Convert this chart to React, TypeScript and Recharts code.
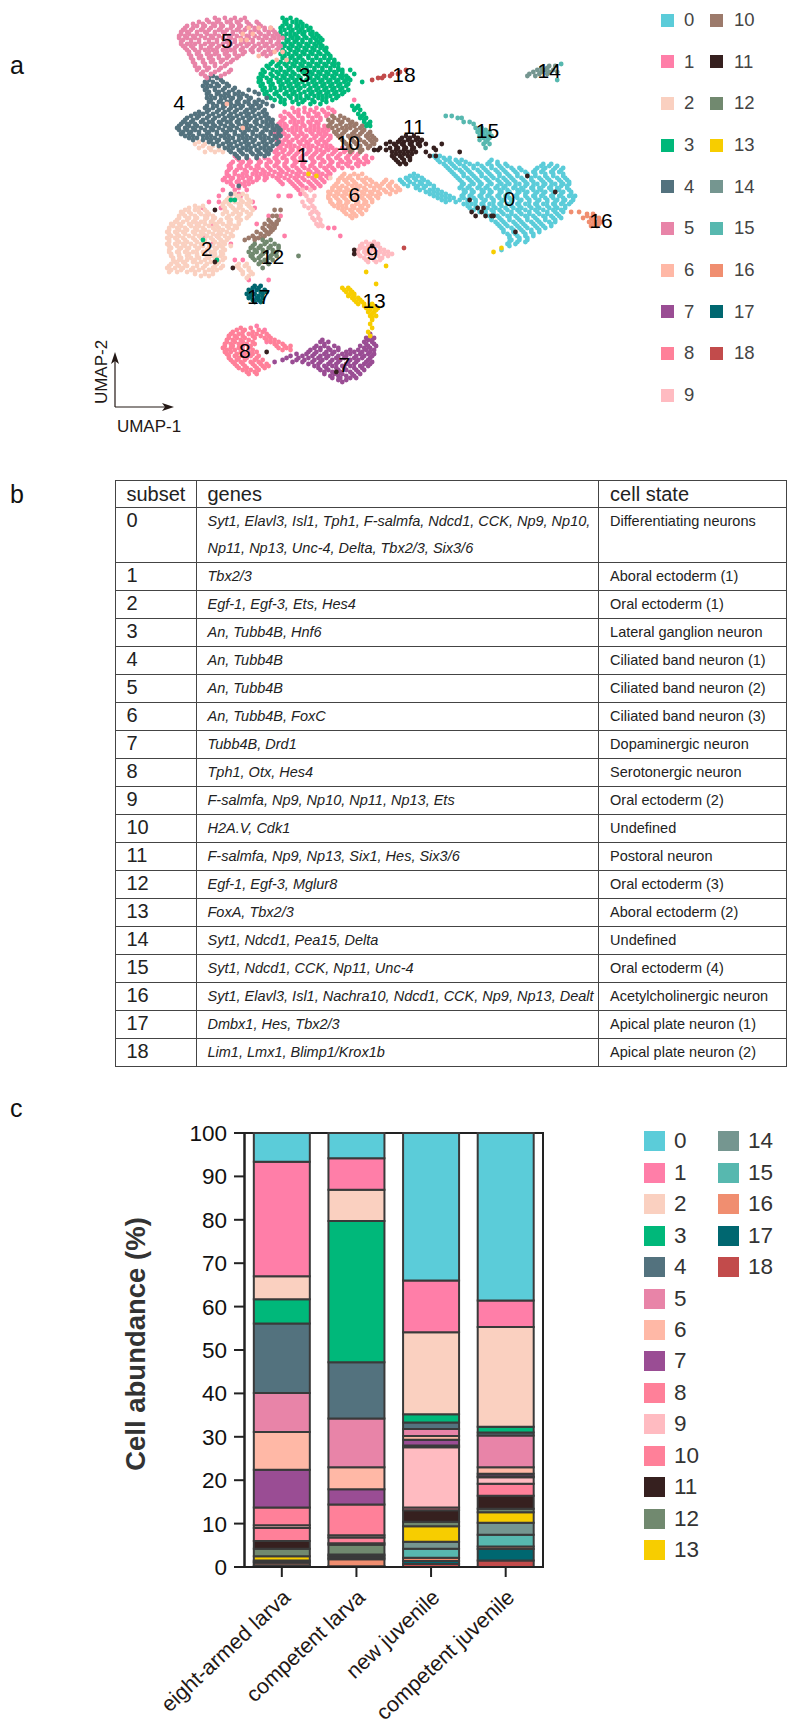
import { Bar, BarChart, ReferenceArea, Scatter, ScatterChart, XAxis, YAxis } from 'recharts';

const FONT = '"Liberation Sans", Arial, sans-serif';

const subsets = ['0','1','2','3','4','5','6','7','8','9','10','11','12','13','14','15','16','17','18'];
const umapColors = ['#5BCCD9','#FF7EA8','#FAD0C0','#00B87A','#53727E','#E884A8','#FFB8A6','#9A4D94','#FF8099','#FFBBC1','#9C7A6B','#36201F','#71896F','#F7CD00','#759690','#57B8AF','#F08E70','#006770','#C24B4B'];
const barColors = ['#5BCCD9','#FF7EA8','#FAD0C0','#00B87A','#53727E','#E884A8','#FFB8A6','#9A4D94','#FF8099','#FFBBC1','#FF8099','#36201F','#71896F','#F7CD00','#759690','#57B8AF','#F08E70','#006770','#C24B4B'];

const genes = [
  ['Syt1, Elavl3, Isl1, Tph1, F-salmfa, Ndcd1, CCK, Np9, Np10,', 'Np11, Np13, Unc-4, Delta, Tbx2/3, Six3/6'],
  ['Tbx2/3'], ['Egf-1, Egf-3, Ets, Hes4'], ['An, Tubb4B, Hnf6'], ['An, Tubb4B'], ['An, Tubb4B'], ['An, Tubb4B, FoxC'],
  ['Tubb4B, Drd1'], ['Tph1, Otx, Hes4'], ['F-salmfa, Np9, Np10, Np11, Np13, Ets'], ['H2A.V, Cdk1'],
  ['F-salmfa, Np9, Np13, Six1, Hes, Six3/6'], ['Egf-1, Egf-3, Mglur8'], ['FoxA, Tbx2/3'], ['Syt1, Ndcd1, Pea15, Delta'],
  ['Syt1, Ndcd1, CCK, Np11, Unc-4'], ['Syt1, Elavl3, Isl1, Nachra10, Ndcd1, CCK, Np9, Np13, Dealt'],
  ['Dmbx1, Hes, Tbx2/3'], ['Lim1, Lmx1, Blimp1/Krox1b'],
];
const cellStates = ['Differentiating neurons','Aboral ectoderm (1)','Oral ectoderm (1)','Lateral ganglion neuron','Ciliated band neuron (1)','Ciliated band neuron (2)','Ciliated band neuron (3)','Dopaminergic neuron','Serotonergic neuron','Oral ectoderm (2)','Undefined','Postoral neuron','Oral ectoderm (3)','Aboral ectoderm (2)','Undefined','Oral ectoderm (4)','Acetylcholinergic neuron','Apical plate neuron (1)','Apical plate neuron (2)'];

// abundance per stage, subset 0..18
const stages = ['eight-armed larva', 'competent larva', 'new juvenile', 'competent juvenile'];
const eightArmedLarva = [6.6,26.4,5.3,5.6,16.0,9.0,8.7,8.7,4.1,0.6,3.0,1.8,1.7,1.0,0.3,0.2,0.6,0.2,0.2];
const competentLarva = [5.8,7.3,7.2,32.5,13.0,11.2,5.1,3.5,7.1,0.5,1.3,0.4,2.2,0.3,0.45,0.35,1.6,0.1,0.1];
const newJuvenile = [34.0,11.9,18.9,1.9,1.5,1.6,0.9,1.3,0.4,13.9,0.6,2.7,1.0,3.6,1.6,2.05,0.75,0.7,0.7];
const competentJuvenile = [38.6,6.1,23.0,1.3,0.7,7.3,1.5,0.6,0.2,1.5,2.8,3.0,0.8,2.4,2.75,2.75,0.55,2.65,1.5];
const yTicks = [0,10,20,30,40,50,60,70,80,90,100];

const barData = stages.map((stage, i) => {
  const row: Record<string, number | string> = { stage };
  const cols = [eightArmedLarva, competentLarva, newJuvenile, competentJuvenile];
  subsets.forEach((s, j) => { row['s' + s] = cols[i][j]; });
  return row;
});

// UMAP points, one row per umap2 value: [umap2, umap1, umap1, ...]
const c0 = [
  [78,218,221],[80,220,224,229,232,247],[82,223,227,231,236,240,245,250,254,273,277],
  [84,225,229,234,238,243,247,252,257,261,270,274,279,283],[86,227,232,236,241,245,250,254,259,264,268,272,277,281],
  [88,206,210,229,233,238,242,247,251,256,260,265,269,274,278,283],[90,201,205,209,213,231,236,240,245,250,254,258,263,267,272,276,281,285],
  [92,203,208,212,216,233,238,242,247,252,256,261,265,270,274,279,283,286],[94,209,213,218,231,235,240,244,249,253,258,262,267,271,276,280,285],
  [96,214,218,222,234,238,243,247,252,256,261,265,270,274,279,283,287],[98,218,222,226,232,236,241,245,250,254,259,264,268,272,277,281,286,289],
  [100,222,226,231,235,239,244,248,253,257,262,266,271,275,280,284,288],[102,233,237,242,246,251,255,260,264,269,273,278,282,286],
  [104,236,240,245,249,254,258,262,267,271,276,280,284],[106,241,244,248,252,257,261,266,270,275,279,283],
  [108,246,250,255,259,264,268,273,277,281],[110,247,252,256,261,265,270,274,279],[112,250,254,259,263,268,272,277],
  [114,252,257,261,265,270,274],[116,253,258,263,267,271],[118,256,260,264,268],[120,257,261,265],[122,255,259],[125,252],
  [79,219,223,226],[81,221,226,230,234,246,250],[83,224,228,233,238,242,247,251,255,272,276,280],[85,226,231,235,240,244,249,253,258,262,269,273,278,282],
  [87,208,228,233,237,242,246,251,255,260,265,269,274,278,283],[89,204,208,212,230,235,239,244,248,253,257,262,267,271,275,280,284],
  [91,202,206,211,215,232,237,241,246,251,255,259,264,268,273,277,282,286],[93,205,210,214,218,232,236,241,245,250,254,259,264,268,273,277,282,285],
  [95,211,216,220,233,237,242,246,251,255,260,263,268,272,277,281,286],[97,216,220,224,233,237,242,246,251,255,260,264,269,273,278,282,287],
  [99,220,224,228,233,238,242,247,251,256,260,265,269,274,278,283,288],[101,224,229,235,239,243,248,252,257,261,266,270,275,279,283,287],
  [103,235,239,243,248,252,257,261,266,270,275,279,284],[105,238,243,247,251,255,260,264,269,273,278,282],[107,244,248,253,257,262,266,271,275,280],
  [109,247,251,256,260,265,269,274,278,282],[111,249,253,258,262,267,271,276,279],[113,251,255,260,264,269,273,277],[115,253,258,262,267,271],[117,255,259,264,268],[119,256,261,265],[121,256,260,264],[123,256],
];
const c1 = [
  [50,178],[55,150,156,162,167],[57,145,150,155,160,165],[59,143,147,152,157,161],[61,141,146,150,155,159],
  [63,141,144,149,153,158,163],[65,140,145,149,154,158,162,165],[67,139,143,148,152,157,161,164],[69,140,144,149,153,158,162,166],
  [71,141,145,150,154,159,163],[73,140,144,148,153,157,162,166],[75,139,143,147,152,156,161,165,169,174],[77,140,145,149,154,158,162,167,171,176,180],
  [79,119,124,129,133,138,142,147,151,156,160,165,169,174,178,183,187],[81,117,122,126,131,136,140,144,149,153,158,163,167,172,176,181,185],
  [83,115,120,124,129,134,138,143,147,152,156,161,165,170,175,180],[85,115,119,123,128,132,136,141,145,150,155,159,164,168],
  [87,114,118,122,127,131,135,140,144,149,153,158,162,166],[89,113,117,122,126,130,134,139,143,148,152,157,161,165],
  [91,114,119,123,127,141,146,150,155,159,163],[93,117,123,148,152,157,161],[95,112,124,118,150,156],[98,110,121,116,140,145,146],
  [101,105,110,127],[104,102,111,128],[108,104,135,141],[112,99,107,129],[118,109,103,143],[122,107,116],[130,118,122],[140,125,135],[114,168,165],[118,171],
  [163,129],[165,133],[171,134],[126,189],
  [54,147,153,159,165],[56,143,148,153,158,163,168],[58,141,146,150,155,159,164],[60,142,148,152,157,161],[62,140,143,148,152,156,160],
  [64,139,143,147,151,156,160,164],[66,138,142,147,151,156,160,163],[68,141,145,150,154,159,163,166],[70,139,143,147,152,156,161,165],
  [72,142,146,151,155,160,164],[74,141,146,150,155,159,164,167,172],[76,138,142,146,150,155,159,163,168,173,177],[78,118,139,143,148,152,157,161,165,170,175,179,184],
  [80,120,125,130,135,139,144,148,152,157,162,166,171,175,180,184],[82,116,121,125,130,134,139,143,148,152,157,161,166,170,174,179,183],
  [84,116,121,126,130,135,140,144,149,153,158,163,167,172,177],[86,114,118,124,129,133,138,142,147,151,156,160,165],
  [88,115,120,124,129,133,137,141,146,150,155,160,164],[90,112,116,120,125,129,133,140,145,149,153,158,162],[92,116,121,125,142,147,151,156,160],[94,120,149,154,158],[97,151,120],
];
const c2 = [
  [72,98,103],[74,100,105,110],[76,103,108,112],[89,166],[97,118,122],[99,115,119,124],[101,113,118,122,126],[103,98,102,112,116,121,125],
  [105,93,98,103,113,118,122,127],[107,92,96,101,105,112,117,121,126],[109,90,95,99,104,108,114,119,124],[111,88,92,97,101,106,110,115,120],
  [113,87,91,96,100,105,109,114,118],[115,85,90,94,99,103,108,112,117],[117,85,89,93,98,102,107,111,116],[119,84,88,92,97,101,106,110,115],
  [121,85,90,94,99,103,108,112],[123,85,89,93,98,102,107,111,116],[125,85,90,94,99,104,108,113],[127,86,90,95,99,103,108,112],
  [129,87,91,96,100,105,109,113],[131,88,92,97,101,106,110],[133,85,90,94,99,103,108,112,119,123],[135,86,91,96,100,105,109,121,125],
  [137,98,103,107,122,127],[139,124],
  [71,100],[73,102,107],[75,106,110],[98,116,120,124],[100,114,117,121,125],[102,112,115,120,124],[104,95,100,113,117,120,126],[106,91,95,100,104,114,119,124],
  [108,90,93,98,103,107,115,120,125],[110,89,94,98,103,107,111,116,121],[112,86,90,95,99,103,108,112,116,120],[114,85,89,93,98,102,107,110,115,119],
  [116,84,88,92,97,101,105,110,114],[118,86,90,95,100,104,109,113,117],[120,85,89,93,98,103,107,111,114],[122,84,88,92,96,101,105,110,113],
  [124,86,91,95,100,105,109,112],[126,85,89,93,97,102,106,111],[128,86,90,94,99,104,107,111],[130,87,90,94,98,103,108,112],[132,86,89,93,99,104,109,120,124],
  [134,84,88,92,97,102,107,111,120,125],[136,85,89,94,98,103,107,122,126],[138,101,105,125],
];
const c3 = [
  [9,142,146],[11,143,147,151],[13,142,146,150,154],[15,143,147,151,155],[17,144,148,152,156,159],[19,143,147,150,154,158,161],[21,144,148,152,156,160],
  [23,143,147,151,155,159,162],[25,142,146,150,154,158,163],[27,141,145,149,153,157,161,165],[29,142,146,150,155,159,163,166],[31,137,141,145,149,153,157,161,165,168],
  [33,134,139,144,148,152,156,160,164,168],[35,132,137,141,145,150,154,158,162,166,170],[37,131,136,140,144,148,153,157,161,165,169,172,178],
  [39,130,134,139,143,147,151,156,160,164,168,172,175],[41,130,135,140,144,148,152,157,161,165,169,173,182],[43,131,136,141,145,149,153,158,162,166,170,174],
  [45,132,136,141,146,150,155,159,163,167,171,175],[47,133,138,143,147,151,156,160,164,168,172],[49,136,141,146,151,155,160,164,169],[51,141,147,152,158,164],
  [53,177,180],[55,178,181],[57,180,183],[59,181,184],[61,183,186],[63,184,186],[35,172,176],[100,118,116],[120,102],[130,109],
  [10,144,149],[12,144,149,152],[14,141,145,149,152,156],[16,141,146,150,153,157],[18,142,146,149,153,157,160],[20,145,149,152,156,159,162],[22,142,146,150,154,158,161],
  [24,145,149,153,157,161,164],[26,143,148,152,156,160,164],[28,143,147,151,155,159,163,166],[30,144,148,152,157,161,165,168],[32,136,140,143,147,151,155,159,163,167,170],
  [34,135,141,146,150,154,158,162,166,170],[36,133,139,143,147,152,156,160,164,168,172],[38,132,137,142,146,150,155,159,163,167,171,174],
  [40,131,136,141,145,149,154,158,162,166,170,174,176],[42,132,137,142,146,150,155,159,163,167,171,175],[44,133,138,143,147,151,156,160,164,168,172],
  [46,134,139,144,148,153,157,161,165,169,173],[48,135,140,145,149,154,158,162,166,170],[50,138,143,149,153,157,162,167],[52,143,150,156,161],[54,179],[58,182],[60,183],[62,185],
];
const c4 = [
  [39,105,109],[41,103,107,112],[43,102,106,110,115],[45,103,108,112,117,125],[47,104,109,113,118,122,130],[49,104,108,113,117,121,126,134],
  [51,105,110,114,119,123,128,132],[53,104,109,113,118,122,127,131,137],[55,105,110,115,119,124,128,133],[57,98,102,107,112,116,121,125,130,134],
  [59,94,99,104,108,113,117,122,126,131,135],[61,92,96,101,105,110,114,119,123,128,132,136],[63,90,95,99,104,108,113,117,122,126,131,135,139],
  [65,90,94,98,103,107,112,116,121,125,129,134,138,141],[67,91,95,100,104,109,113,118,122,127,131,136,140],[69,95,99,104,108,113,117,122,126,131,135,139],
  [71,105,109,114,118,123,127,132,136,140],[73,110,115,119,124,128,133,137],[75,115,120,124,129,133,136],[77,118,122,127,131,135],[79,120,124,129],[93,120],[97,116],
  [38,107],[40,105,111],[42,104,109,114],[44,104,108,113,118],[46,105,110,115,120,128],[48,106,111,115,120,124],[50,106,111,116,120,125,130],
  [52,107,112,116,120,125,129,134],[54,103,107,112,116,121,126,130],[56,100,104,109,113,118,123,127,132],[58,96,100,105,110,115,119,124,128,133],
  [60,93,97,102,107,112,116,120,125,129,134,137],[62,91,94,98,103,107,111,116,120,124,129,134,137],[64,89,93,97,101,106,110,115,119,124,128,133,137,140],
  [66,92,96,100,105,109,114,118,123,127,132,136,140],[68,93,97,102,106,111,115,120,124,129,133,138,141],[70,97,102,106,110,115,120,124,128,133,137],
  [72,107,112,116,121,125,130,134,139],[74,113,117,122,126,131,135],[76,116,121,126,130,134],[78,119,124,129,133],
];
const c5 = [
  [9,108,113,118,123],[11,100,105,109,114,119,124,129],[13,94,99,103,108,112,117,121,126,131],[15,92,96,101,105,110,114,119,123,128,133,137],
  [17,91,95,99,104,108,113,117,122,126,131,135,139],[19,90,94,98,103,107,112,116,121,125,130,134,138,142],[21,91,96,100,105,109,114,118,123,127,132,136,140],
  [23,92,96,101,106,110,115,119,124,128,133,137,141],[25,94,98,103,107,112,116,121,126,130,135,139],[27,95,99,104,108,113,118,122,132,136],
  [29,96,100,105,110,114,119],[31,97,102,106,111,116],[33,98,103,108,113],[35,99,104,110,116],[37,101,106,113],[39,104],
  [10,104,110,116,121],[12,97,102,107,111,116,120,125,130],[14,93,97,102,106,111,116,120,124,128,133,136],[16,91,94,99,103,108,112,117,121,126,130,135,138],
  [18,90,93,97,101,106,110,115,119,124,128,133,137,140],[20,92,96,100,105,109,114,118,123,127,132,136,140],[22,91,94,98,103,107,112,116,121,125,130,134,139],
  [24,93,97,101,105,109,114,118,122,127,131,135,140],[26,95,100,105,109,114,118,123,127,133,137],[28,96,101,106,110,115,120,134],[30,97,102,107,112,117],[32,98,103,108,114],[34,100,105,111],[36,102,108,115],[38,103,111],
];
const c6 = [
  [14,125,130,136],[28,130],[87,173,178,182],[89,171,175,180,184],[91,170,174,178,183,187,193,197],[93,168,172,177,181,186,190,195,199],
  [95,167,171,175,180,184,188,193,197,201],[97,166,170,174,179,183,187,191,196],[99,165,169,173,178,182,186,190],[101,166,171,175,180,184,187],
  [103,168,172,177,181,185],[105,172,176,180,184],[107,174,178,182],[109,177],
  [17,122,127],[20,121,124],[26,138,142],[30,139,144],[52,114],[64,122],[88,172,176,180],[90,170,173,177,182,186,194],[92,169,175,179,184,189,192,196],
  [94,167,170,174,179,183,188,191,196,200],[96,165,169,173,178,182,186,190,194,199],[98,165,168,172,176,181,185,189],[100,166,170,174,179,183,187],[102,167,170,174,179,183],[104,170,174,178,182],[106,173,177,181],[108,176,179],
];
const c7 = [
  [167,186],[169,184,188],[171,161,165,183,187],[173,159,163,168,181,185,189],[175,156,161,166,170,176,180,184,188],
  [177,149,154,158,163,167,172,176,181,185,188],[179,144,150,155,160,164,169,173,178,182,186],[181,138,147,152,157,161,166,170,175,179,184,187],
  [183,158,163,167,172,176,181,185],[185,161,165,170,174,179,183],[187,163,168,172,177,181],[189,167,171,176,179],[191,172],
  [168,186],[170,185,162,187],[172,163,184,188],[174,158,161,165,170,183,186],[176,155,159,164,168,174,178,182,186],[178,146,152,157,161,165,170,174,179,183,187],
  [180,142,149,153,158,162,167,171,176,180,185],[182,155,160,165,169,174,178,183,186],[184,160,164,169,173,178,182],[186,163,167,171,176,180],[188,166,170,174,178],[190,170,174],
];
const c8 = [
  [165,119,123,130],[167,116,120,125,129,134],[169,115,119,123,128,133,136],[171,114,118,122,127,136,140],[173,113,117,122,126,139,143,146],
  [175,114,118,122,127,142,146],[177,114,119,123,127],[179,115,120,124,129],[181,117,121,126,130],[183,119,123,128,132,135],[185,122,126,130],[187,125,129],
  [164,121,126],[166,117,122,127,132],[168,115,118,122,127,131,135],[170,114,117,121,125,134,138],[172,113,116,120,124,128,138,142],[174,112,116,120,125,140,144],
  [176,113,116,121,125,129],[178,115,118,122,126,130],[180,116,119,123,128,132],[182,118,122,127,131,134],[184,120,124,129,133],[186,124,128],
];
const c9 = [
  [95,152,156],[98,154,158],[101,152,156],[104,155,158],[107,156,160],[110,158,161],[113,160,162],
  [121,184,188],[123,181,185,189],[125,180,184,188,193],[127,180,184,189,193,197],[129,183,187,192],[131,185,189],
  [97,153],[100,155,157],[103,153,157],[106,157,159],[109,157,160],[112,159,161],[122,182,186,190],[124,181,183,187,191],[126,179,183,186,191,195],[128,181,186,190,195],[130,184,188,191],
];
const c10 = [
  [58,167,171],[60,165,170,175],[62,166,171,176,179],[64,167,172,176,181],[66,168,173,178,182,186],[68,170,175,179,184,187],[70,172,177,181,186,189],
  [72,174,179,184,188],[74,175,180,185],[76,176,181],
  [59,168,173],[61,167,172,177],[63,165,169,174,178,182],[65,170,174,179,183],[67,169,172,177,181,185],[69,171,176,180,185,188],[71,173,178,183,187],[73,176,181,186],[75,177,182],
  [120,123,128],[119,125,130],[118,127,133],[116,129,134,136],[114,132,136,138],[112,133,137,139],[110,135,140],[108,137,139],[105,141,138],
  [117,131,135],[115,133,137],[113,135,138],[111,136,139],[119,128,132],
];
const c11 = [
  [68,204,208],[70,201,205,209,212],[71,196,200,203,207,211],[72,194,198,202,206,210,214,222],[74,191,196,200,204,208,218],
  [75,188,190,194,199,203,207,219],[76,197,201,205,209,214],[78,197,201,205,216,219],[80,199,203,206],[82,201,204],
  [69,202,206,210],[73,199,203,207,211],[77,199,203,207],[79,198,202,206],[81,200,203],
  [76,231],[100,236],[104,240,243],[106,237,242],[108,239,244,247,248],[88,265],[96,279],[116,259],[105,108],[131,108],[134,117],[125,178],[127,178],[176,134],[186,169],[123,187],
];
const c12 = [[120,132,136],[122,128,133,138],[124,126,130,135,140],[126,125,129,134,139],[128,126,131,136,139],[130,128,133,137],[132,130,135],[134,132],[128,150],[121,134],[123,127,131,136,140],[125,128,132,137],[127,127,132,137],[129,127,130,135],[131,131,134]];
const c13 = [
  [144,172,175],[146,174,177],[148,175,178],[150,178,181],[152,180,183,187],[154,184,188,190],[156,185,188],[158,186,189],[160,187],[162,186],[164,187],[166,185],[168,186],[136,184],[142,189],[133,194],[124,252],[126,248],
  [145,173,176],[147,176,178],[149,177,180],[151,179,182],[153,183,186,188],[155,186,189],[157,187],[159,187],[88,159],[87,155],
];
const c14 = [[33,276,279],[34,272,275],[35,270,274,278],[36,268,272,276,280],[37,266,271,275],[38,265,269]];
const c15 = [[58,224,227],[59,230,232],[61,233,236],[62,238],[64,239,242],[66,240,243,246],[68,241,244,247],[70,241,245],[72,243,246],[74,244],[40,280],[32,282],[65,241,244],[67,242,245],[69,243,246],[71,244]];
const c16 = [[106,287,291],[107,295,298],[109,293,297,301],[111,296,299,302],[113,297,300],[108,295,299],[110,298,301],[112,298,301]];
const c17 = [[143,128,131],[145,125,129,133],[147,124,128,132],[149,125,129,132],[151,128,131],[144,127,130],[146,126,131,134],[148,126,130],[150,127,130]];
const c18 = [[35,204],[36,201],[37,197,200],[38,193,196],[39,190,192],[40,187],[124,203]];
const clusters = [c0,c1,c2,c3,c4,c5,c6,c7,c8,c9,c10,c11,c12,c13,c14,c15,c16,c17,c18];

const clusterLabels = [
  { x: 256, y: 99, t: '0' }, { x: 152, y: 77, t: '1' }, { x: 104, y: 124, t: '2' }, { x: 153, y: 37, t: '3' }, { x: 90, y: 51, t: '4' },
  { x: 114, y: 20, t: '5' }, { x: 178, y: 97, t: '6' }, { x: 173, y: 182, t: '7' }, { x: 123, y: 175, t: '8' }, { x: 187, y: 126, t: '9' },
  { x: 175, y: 71, t: '10' }, { x: 208, y: 63, t: '11' }, { x: 137, y: 128, t: '12' }, { x: 188, y: 150, t: '13' }, { x: 276, y: 35, t: '14' },
  { x: 245, y: 65, t: '15' }, { x: 302, y: 110, t: '16' }, { x: 130, y: 148, t: '17' }, { x: 203, y: 37, t: '18' },
];

const toPoints = (rows: number[][]) => rows.flatMap(([y, ...xs]) => xs.map((x) => ({ x, y })));

const Panel = ({ t, top }: { t: string; top: number }) => (
  <div style={{ position: 'absolute', left: 10, top, fontSize: 25, lineHeight: '28px', color: '#111' }}>{t}</div>
);

function Umap() {
  return (
    <div style={{ position: 'absolute', left: 0, top: 0 }}>
      <ScatterChart width={797} height={470} margin={{ top: 0, right: 0, bottom: 0, left: 0 }}>
        <XAxis type="number" dataKey="x" domain={[0, 400.5]} hide />
        <YAxis type="number" dataKey="y" domain={[0, 235]} reversed hide />
        {clusters.map((rows, i) => (
          <Scatter
            key={i}
            data={toPoints(rows)}
            isAnimationActive={false}
            shape={(p: any) => <circle cx={p.cx} cy={p.cy} r={2.4} fill={umapColors[i]} />}
          />
        ))}
        <Scatter
          data={clusterLabels}
          isAnimationActive={false}
          shape={(p: any) => (
            <text x={p.cx} y={p.cy} textAnchor="middle" dominantBaseline="central" fontSize={21} fill="#000" fontFamily={FONT}>
              {p.payload.t}
            </text>
          )}
        />
      </ScatterChart>
      <svg width={200} height={100} style={{ position: 'absolute', left: 90, top: 340 }}>
        <path d="M25 67V18M25 67H78" stroke="#231815" strokeWidth={1.2} fill="none" />
        <path d="M25 12L21 24L25 21L29 24Z M84 67L72 63L75 67L72 71Z" fill="#231815" />
        <text transform="translate(17 32) rotate(-90)" textAnchor="middle" fontSize={17} fill="#231815" fontFamily={FONT}>UMAP-2</text>
        <text x={59} y={92} textAnchor="middle" fontSize={17} fill="#231815" fontFamily={FONT}>UMAP-1</text>
      </svg>
    </div>
  );
}

function UmapLegend() {
  return (
    <>
      {subsets.map((s, i) => {
        const col = i < 10 ? 0 : 1;
        const row = i < 10 ? i : i - 10;
        const y = 20 + row * 41.67;
        return (
          <div key={s}>
            <div style={{ position: 'absolute', left: col ? 710 : 661, top: y - 6.5, width: 13, height: 13, background: umapColors[i] }} />
            <div style={{ position: 'absolute', left: col ? 734 : 684, top: y - 12, fontSize: 18.5, lineHeight: '24px', color: '#444' }}>{s}</div>
          </div>
        );
      })}
    </>
  );
}

function GeneTable() {
  const line = '1px solid #444';
  const rowH = (i: number) => (i === 0 ? 54.7 : 27.7);
  return (
    <table style={{ position: 'absolute', left: 114.5, top: 480, width: 672, borderCollapse: 'collapse', tableLayout: 'fixed', color: '#222' }}>
      <colgroup><col style={{ width: 81 }} /><col style={{ width: 402.6 }} /><col style={{ width: 188.4 }} /></colgroup>
      <tbody>
        <tr style={{ height: 27.3 }}>
          {['subset', 'genes', 'cell state'].map((h) => (
            <td key={h} style={{ border: line, padding: '0 0 0 11px', fontSize: 20, lineHeight: '24px' }}>{h}</td>
          ))}
        </tr>
        {subsets.map((s, i) => (
          <tr key={s} style={{ height: rowH(i) }}>
            <td style={{ border: line, padding: '0 0 0 11px', fontSize: 20, lineHeight: '24px', verticalAlign: 'top' }}>{s}</td>
            <td style={{ border: line, padding: '0 0 0 11px', fontSize: 14.5, fontStyle: 'italic', lineHeight: '27px', whiteSpace: 'nowrap' }}>
              {genes[i].map((g) => <div key={g}>{g}</div>)}
            </td>
            <td style={{ border: line, padding: '0 0 0 11px', fontSize: 14.5, lineHeight: '27px', verticalAlign: 'top', whiteSpace: 'nowrap' }}>{cellStates[i]}</td>
          </tr>
        ))}
      </tbody>
    </table>
  );
}

const StageTick = ({ x, y, payload }: any) => (
  <text
    x={x + 10}
    y={y + 20}
    transform={`rotate(-43 ${x + 10} ${y + 20})`}
    textAnchor="end"
    fontSize={21.5}
    fill="#231815"
    fontFamily={FONT}
  >
    {payload.value}
  </text>
);

function Abundance() {
  return (
    <div style={{ position: 'absolute', left: 0, top: 1100 }}>
      <BarChart
        width={797}
        height={626}
        data={barData}
        barCategoryGap="12.5%"
        margin={{ top: 33, right: 254, bottom: 29, left: 184.5 }}
      >
        <XAxis
          dataKey="stage"
          height={130}
          interval={0}
          tick={<StageTick />}
          tickLine={{ stroke: '#222', strokeWidth: 2 }}
          tickSize={10}
          axisLine={{ stroke: '#222', strokeWidth: 2 }}
        />
        <YAxis
          width={60}
          domain={[0, 100]}
          ticks={yTicks}
          interval={0}
          tick={{ fontSize: 22.5, fill: '#111', fontFamily: FONT }}
          tickLine={{ stroke: '#222', strokeWidth: 2 }}
          tickSize={10.5}
          tickMargin={7}
          axisLine={{ stroke: '#222', strokeWidth: 2 }}
        />
        {[...subsets].reverse().map((s) => (
          <Bar
            key={s}
            dataKey={'s' + s}
            stackId="cells"
            fill={barColors[Number(s)]}
            stroke="#3a3a3a"
            strokeWidth={2}
            isAnimationActive={false}
          />
        ))}
        <ReferenceArea y1={0} y2={100} fill="none" stroke="#222" strokeWidth={2} />
      </BarChart>
      <div
        style={{
          position: 'absolute',
          left: 136,
          top: 244,
          transform: 'translate(-50%, -50%) rotate(-90deg)',
          fontSize: 27.5,
          fontWeight: 700,
          color: '#333',
          whiteSpace: 'nowrap',
        }}
      >
        Cell abundance (%)
      </div>
    </div>
  );
}

function AbundanceLegend() {
  return (
    <>
      {subsets.map((s, i) => {
        const col = i < 14 ? 0 : 1;
        const row = i < 14 ? i : i - 14;
        const y = 1141.3 + row * 31.45;
        return (
          <div key={s}>
            <div style={{ position: 'absolute', left: col ? 718 : 644, top: y - 10, width: 21, height: 20, background: barColors[i] }} />
            <div style={{ position: 'absolute', left: col ? 748 : 674, top: y - 14, fontSize: 22.5, lineHeight: '28px', color: '#333' }}>{s}</div>
          </div>
        );
      })}
    </>
  );
}

export default function App() {
  return (
    <div style={{ position: 'absolute', left: 0, top: 0, width: 797, height: 1726, background: '#fff', fontFamily: FONT, overflow: 'hidden' }}>
      <Panel t="a" top={51} />
      <Umap />
      <UmapLegend />
      <Panel t="b" top={480} />
      <GeneTable />
      <Panel t="c" top={1094} />
      <Abundance />
      <AbundanceLegend />
    </div>
  );
}
